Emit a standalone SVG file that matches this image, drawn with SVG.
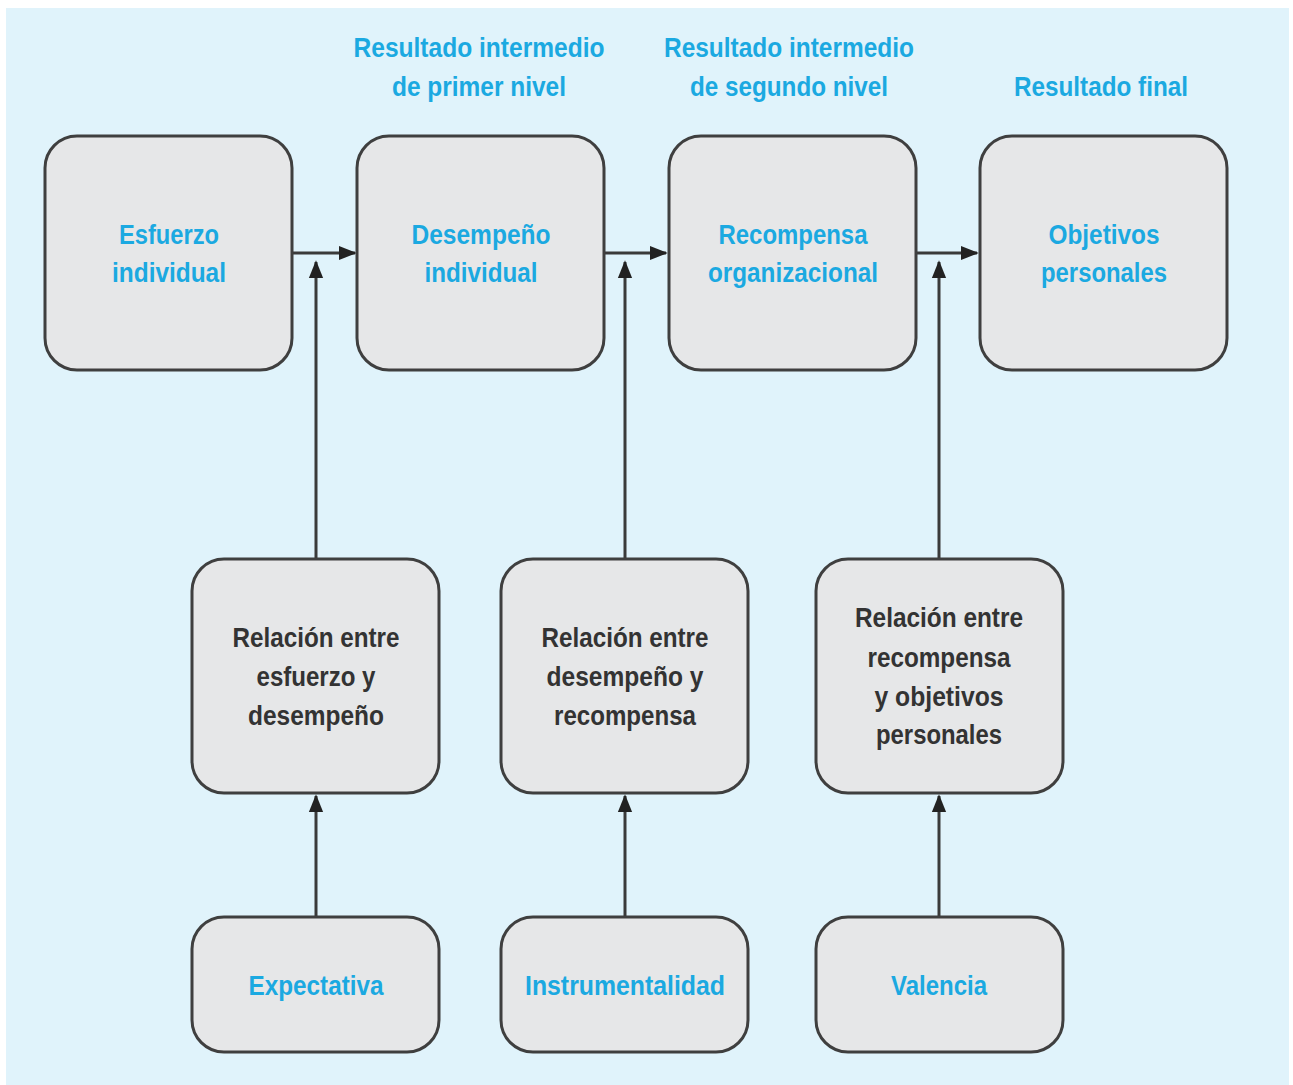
<svg xmlns="http://www.w3.org/2000/svg" width="1293" height="1085" viewBox="0 0 1293 1085">
<defs>
<style>
.box{fill:#e6e7e8;stroke:#3f3f3f;stroke-width:3}
.t{font-family:"Liberation Sans",Arial,sans-serif;font-weight:bold;font-size:28px;text-anchor:middle}
.b{fill:#1ba9e1}
.d{fill:#333333}
.c{stroke:#3a3a3a;stroke-width:3;fill:none;marker-end:url(#ah)}
</style>
<marker id="ah" viewBox="0 0 10 10" refX="9" refY="5" markerWidth="6" markerHeight="6" orient="auto" markerUnits="strokeWidth">
<path d="M0,1 L10,5 L0,9 Z" fill="#222"/>
</marker>
</defs>
<rect x="0" y="0" width="1293" height="1085" fill="#ffffff"/>
<rect x="6" y="8" width="1283" height="1077" fill="#e0f3fb"/>
<g id="headers">
<text class="t b" x="479" y="57" textLength="251" lengthAdjust="spacingAndGlyphs">Resultado intermedio</text>
<text class="t b" x="479" y="96" textLength="174" lengthAdjust="spacingAndGlyphs">de primer nivel</text>
<text class="t b" x="789" y="57" textLength="250" lengthAdjust="spacingAndGlyphs">Resultado intermedio</text>
<text class="t b" x="789" y="96" textLength="198" lengthAdjust="spacingAndGlyphs">de segundo nivel</text>
<text class="t b" x="1101" y="96" textLength="174" lengthAdjust="spacingAndGlyphs">Resultado final</text>
</g>
<g id="connectors">
<line class="c" x1="292" y1="253" x2="355" y2="253"/>
<line class="c" x1="604" y1="253" x2="666" y2="253"/>
<line class="c" x1="916" y1="253" x2="977" y2="253"/>
<line class="c" x1="316" y1="559" x2="316" y2="262"/>
<line class="c" x1="625" y1="559" x2="625" y2="262"/>
<line class="c" x1="939" y1="559" x2="939" y2="262"/>
<line class="c" x1="316" y1="917" x2="316" y2="796"/>
<line class="c" x1="625" y1="917" x2="625" y2="796"/>
<line class="c" x1="939" y1="917" x2="939" y2="796"/>
</g>
<g id="esfuerzo">
<rect class="box" x="45" y="136" width="247" height="234" rx="32"/>
<text class="t b" x="169" y="244" textLength="100" lengthAdjust="spacingAndGlyphs">Esfuerzo</text>
<text class="t b" x="169" y="282" textLength="114" lengthAdjust="spacingAndGlyphs">individual</text>
</g>
<g id="desempeno">
<rect class="box" x="357" y="136" width="247" height="234" rx="32"/>
<text class="t b" x="481" y="244" textLength="139" lengthAdjust="spacingAndGlyphs">Desempeño</text>
<text class="t b" x="481" y="282" textLength="113" lengthAdjust="spacingAndGlyphs">individual</text>
</g>
<g id="recompensa">
<rect class="box" x="669" y="136" width="247" height="234" rx="32"/>
<text class="t b" x="793" y="244" textLength="149" lengthAdjust="spacingAndGlyphs">Recompensa</text>
<text class="t b" x="793" y="282" textLength="170" lengthAdjust="spacingAndGlyphs">organizacional</text>
</g>
<g id="objetivos">
<rect class="box" x="980" y="136" width="247" height="234" rx="32"/>
<text class="t b" x="1104" y="244" textLength="111" lengthAdjust="spacingAndGlyphs">Objetivos</text>
<text class="t b" x="1104" y="282" textLength="126" lengthAdjust="spacingAndGlyphs">personales</text>
</g>
<g id="rel1">
<rect class="box" x="192" y="559" width="247" height="234" rx="32"/>
<text class="t d" x="316" y="647" textLength="167" lengthAdjust="spacingAndGlyphs">Relación entre</text>
<text class="t d" x="316" y="686" textLength="119" lengthAdjust="spacingAndGlyphs">esfuerzo y</text>
<text class="t d" x="316" y="725" textLength="136" lengthAdjust="spacingAndGlyphs">desempeño</text>
</g>
<g id="rel2">
<rect class="box" x="501" y="559" width="247" height="234" rx="32"/>
<text class="t d" x="625" y="647" textLength="167" lengthAdjust="spacingAndGlyphs">Relación entre</text>
<text class="t d" x="625" y="686" textLength="157" lengthAdjust="spacingAndGlyphs">desempeño y</text>
<text class="t d" x="625" y="725" textLength="142" lengthAdjust="spacingAndGlyphs">recompensa</text>
</g>
<g id="rel3">
<rect class="box" x="816" y="559" width="247" height="234" rx="32"/>
<text class="t d" x="939" y="627" textLength="168" lengthAdjust="spacingAndGlyphs">Relación entre</text>
<text class="t d" x="939" y="667" textLength="143" lengthAdjust="spacingAndGlyphs">recompensa</text>
<text class="t d" x="939" y="706" textLength="129" lengthAdjust="spacingAndGlyphs">y objetivos</text>
<text class="t d" x="939" y="744" textLength="126" lengthAdjust="spacingAndGlyphs">personales</text>
</g>
<g id="expectativa">
<rect class="box" x="192" y="917" width="247" height="135" rx="32"/>
<text class="t b" x="316" y="995" textLength="135" lengthAdjust="spacingAndGlyphs">Expectativa</text>
</g>
<g id="instrumentalidad">
<rect class="box" x="501" y="917" width="247" height="135" rx="32"/>
<text class="t b" x="625" y="995" textLength="200" lengthAdjust="spacingAndGlyphs">Instrumentalidad</text>
</g>
<g id="valencia">
<rect class="box" x="816" y="917" width="247" height="135" rx="32"/>
<text class="t b" x="939" y="995" textLength="96" lengthAdjust="spacingAndGlyphs">Valencia</text>
</g>
</svg>
